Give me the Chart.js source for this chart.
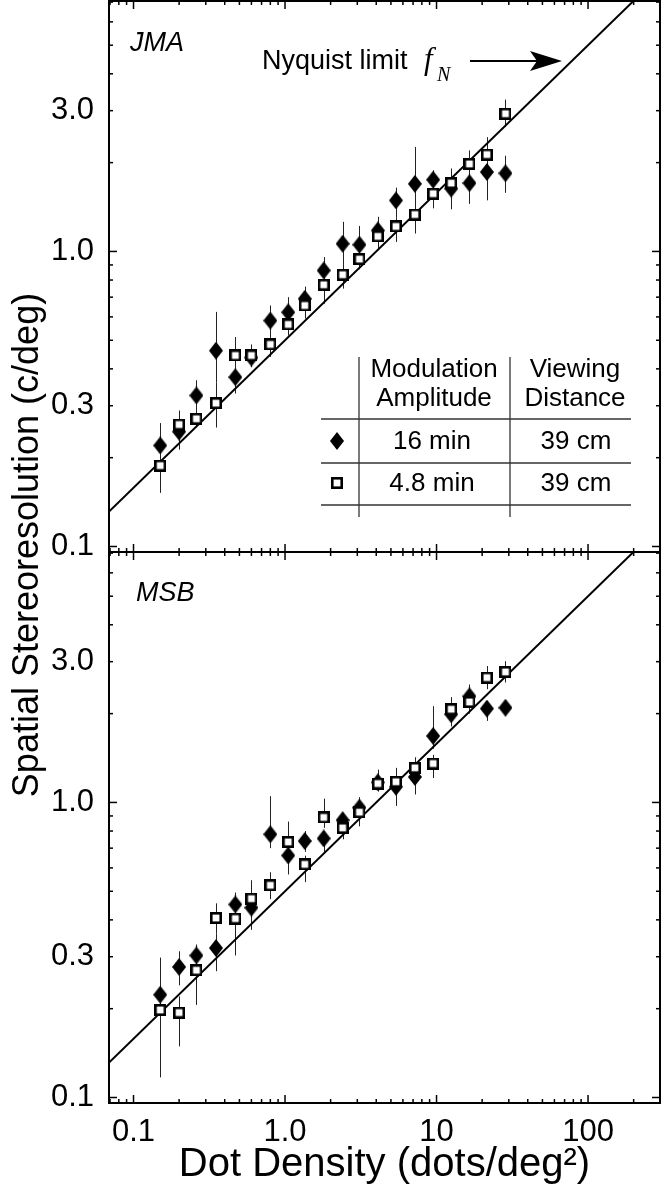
<!DOCTYPE html>
<html>
<head>
<meta charset="utf-8">
<script src="https://cdn.jsdelivr.net/npm/chart.js@4.4.1/dist/chart.umd.min.js"></script>
<style>
  html, body { margin: 0; padding: 0; background: #fff; }
  #wrap { position: relative; width: 663px; height: 1199px; }
  canvas { position: absolute; left: 0; top: 0; }
</style>
</head>
<body>
<div id="wrap">
  <canvas id="topPanel" width="663" height="1199"></canvas>
  <canvas id="bottomPanel" width="663" height="1199"></canvas>
</div>
<script>
// dot density (dots/deg^2), shared by both observers
var density = [0.15, 0.2, 0.26, 0.35, 0.47, 0.6, 0.8, 1.05, 1.35, 1.8, 2.4, 3.1, 4.1, 5.4, 7.2, 9.5, 12.5, 16.5, 21.5, 28.5];

// JMA, 16 min (filled diamonds)
var jmaDiamond   = [0.220, 0.245, 0.325, 0.461, 0.375, 0.437, 0.583, 0.622, 0.691, 0.862, 1.062, 1.054, 1.178, 1.489, 1.695, 1.75, 1.633, 1.705, 1.858, 1.84];
var jmaDiamondLo = [0.185, 0.215, 0.29, 0.36, 0.33, 0.41, 0.50, 0.56, 0.62, 0.78, 0.90, 0.91, 1.06, 1.30, 1.15, 1.55, 1.39, 1.45, 1.49, 1.58];
var jmaDiamondHi = [0.262, 0.28, 0.366, 0.624, 0.42, 0.47, 0.656, 0.70, 0.76, 0.957, 1.26, 1.22, 1.31, 1.645, 2.26, 1.885, 1.91, 1.95, 2.44, 2.11];
// JMA, 4.8 min (open squares)
var jmaSquare    = [0.188, 0.259, 0.271, 0.306, 0.444, 0.444, 0.484, 0.566, 0.656, 0.771, 0.834, 0.942, 1.125, 1.216, 1.334, 1.57, 1.705, 1.98, 2.13, 2.93];
var jmaSquareLo  = [0.152, 0.213, 0.255, 0.253, 0.40, 0.405, 0.439, 0.519, 0.592, 0.665, 0.748, 0.87, 1.02, 1.077, 1.2, 1.40, 1.5, 1.75, 1.9, 2.64];
var jmaSquareHi  = [0.215, 0.289, 0.29, 0.36, 0.513, 0.484, 0.52, 0.60, 0.70, 0.84, 0.9, 1.0, 1.2, 1.3, 1.45, 1.7, 1.85, 2.2, 2.35, 3.27];

// MSB, 16 min
var msbDiamond   = [0.223, 0.277, 0.303, 0.321, 0.451, 0.44, 0.78, 0.661, 0.74, 0.755, 0.871, 0.96, 1.17, 1.13, 1.22, 1.68, 1.99, 2.29, 2.08, 2.094];
var msbDiamondLo = [0.19, 0.24, 0.28, 0.268, 0.42, 0.37, 0.70, 0.57, 0.68, 0.68, 0.80, 0.88, 1.09, 0.973, 1.064, 1.52, 1.81, 2.07, 1.89, 1.97];
var msbDiamondHi = [0.298, 0.313, 0.33, 0.36, 0.495, 0.47, 1.05, 0.86, 0.80, 0.80, 0.92, 1.04, 1.29, 1.31, 1.42, 2.12, 2.27, 2.51, 2.2, 2.2];
// MSB, 4.8 min
var msbSquare    = [0.198, 0.194, 0.27, 0.406, 0.404, 0.472, 0.524, 0.735, 0.617, 0.89, 0.82, 0.927, 1.159, 1.175, 1.31, 1.355, 2.07, 2.19, 2.65, 2.77];
var msbSquareLo  = [0.117, 0.149, 0.206, 0.36, 0.303, 0.44, 0.47, 0.68, 0.537, 0.82, 0.75, 0.83, 1.09, 1.10, 1.2, 1.21, 1.9, 2.0, 2.42, 2.55];
var msbSquareHi  = [0.22, 0.22, 0.3, 0.455, 0.45, 0.545, 0.58, 0.86, 0.66, 1.03, 0.87, 1.04, 1.29, 1.25, 1.42, 1.45, 2.27, 2.4, 2.90, 3.01];

// Nyquist limit line end points
var nyquistX = [0.04, 400];
var nyquistY = [0.1, 10];

var xTicks = [0.1, 1, 10, 100];
var xTickLabels = ['0.1', '1.0', '10', '100'];
var yTicks = [0.1, 0.3, 1, 3];
var yTickLabels = ['0.1', '0.3', '1.0', '3.0'];

var SANS = '"Liberation Sans", Arial, sans-serif';

function makeDiamond() {
  var c = document.createElement('canvas');
  c.width = 14; c.height = 18;
  var g = c.getContext('2d');
  g.fillStyle = '#000';
  g.beginPath();
  g.moveTo(7, 0); g.lineTo(14, 9); g.lineTo(7, 18); g.lineTo(0, 9);
  g.closePath();
  g.fill();
  return c;
}
function makeSquare() {
  var c = document.createElement('canvas');
  c.width = 12; c.height = 12;
  var g = c.getContext('2d');
  g.fillStyle = '#fff';
  g.fillRect(1, 1, 10, 10);
  g.strokeStyle = '#000';
  g.lineWidth = 2.6;
  g.strokeRect(1.3, 1.3, 9.4, 9.4);
  return c;
}
var diamondImg = makeDiamond();
var squareImg = makeSquare();

function points(xs, ys) {
  return xs.map(function (x, i) { return { x: x, y: ys[i] }; });
}

function errPlugin(sets) {
  return {
    id: 'errbars',
    beforeDatasetsDraw: function (chart) {
      var ctx = chart.ctx, xs = chart.scales.x, ys = chart.scales.y;
      ctx.save();
      ctx.strokeStyle = '#222';
      ctx.lineWidth = 1;
      sets.forEach(function (s) {
        for (var i = 0; i < density.length; i++) {
          var px = Math.round(xs.getPixelForValue(density[i])) + 0.5;
          ctx.beginPath();
          ctx.moveTo(px, ys.getPixelForValue(s.lo[i]));
          ctx.lineTo(px, ys.getPixelForValue(s.hi[i]));
          ctx.stroke();
        }
      });
      ctx.restore();
    }
  };
}

var framePlugin = {
  id: 'frame',
  afterDatasetsDraw: function (chart) {
    var a = chart.chartArea, ctx = chart.ctx, xs = chart.scales.x, ys = chart.scales.y;
    ctx.save();
    ctx.strokeStyle = '#000';
    ctx.lineWidth = 1.5;
    function seg(x1, y1, x2, y2) { ctx.beginPath(); ctx.moveTo(x1, y1); ctx.lineTo(x2, y2); ctx.stroke(); }
    for (var d = -2; d <= 3; d++) {
      for (var m = 1; m <= 9; m++) {
        var v = m * Math.pow(10, d);
        var len = m === 1 ? 8 : 4;
        if (v >= xs.min && v <= xs.max) {
          var px = xs.getPixelForValue(v);
          seg(px, a.bottom, px, a.bottom - len);
          seg(px, a.top, px, a.top + len);
        }
        if (v >= ys.min && v <= ys.max) {
          var py = ys.getPixelForValue(v);
          seg(a.left, py, a.left + len, py);
          seg(a.right, py, a.right - len, py);
        }
      }
    }
    ctx.lineWidth = 2;
    ctx.strokeRect(a.left, a.top, a.right - a.left, a.bottom - a.top);
    ctx.restore();
  }
};

var topText = {
  id: 'topText',
  afterDraw: function (chart) {
    var ctx = chart.ctx;
    ctx.save();
    ctx.fillStyle = '#000';
    ctx.strokeStyle = '#000';
    ctx.textBaseline = 'middle';

    ctx.font = 'italic 27px ' + SANS;
    ctx.textAlign = 'left';
    ctx.fillText('JMA', 130, 43);

    // Nyquist label and arrow
    ctx.textBaseline = 'alphabetic';
    ctx.font = '27px ' + SANS;
    ctx.fillText('Nyquist limit', 262, 69);
    ctx.font = 'italic 31px "Liberation Serif", "Times New Roman", serif';
    ctx.fillText('f', 424, 69);
    ctx.font = 'italic 20px "Liberation Serif", "Times New Roman", serif';
    ctx.fillText('N', 437, 81);
    ctx.lineWidth = 2;
    ctx.beginPath(); ctx.moveTo(470, 61); ctx.lineTo(540, 61); ctx.stroke();
    ctx.beginPath();
    ctx.moveTo(562, 61); ctx.lineTo(530, 51); ctx.lineTo(537, 61); ctx.lineTo(530, 71);
    ctx.closePath(); ctx.fill();

    // legend table
    ctx.lineWidth = 1.3;
    ctx.strokeStyle = '#333';
    [[359, 357, 359, 517], [510, 357, 510, 517], [321, 419, 631, 419], [321, 463, 631, 463], [321, 505, 631, 505]].forEach(function (l) {
      ctx.beginPath(); ctx.moveTo(l[0], l[1]); ctx.lineTo(l[2], l[3]); ctx.stroke();
    });
    ctx.font = '26px ' + SANS;
    ctx.textAlign = 'center';
    ctx.textBaseline = 'middle';
    ctx.fillText('Modulation', 434, 370);
    ctx.fillText('Amplitude', 434, 399);
    ctx.fillText('Viewing', 575, 370);
    ctx.fillText('Distance', 575, 399);
    ctx.fillText('16 min', 432, 442);
    ctx.fillText('39 cm', 576, 442);
    ctx.fillText('4.8 min', 432, 484);
    ctx.fillText('39 cm', 576, 484);
    ctx.drawImage(diamondImg, 337 - 7, 441 - 9);
    ctx.drawImage(squareImg, 337 - 6, 483 - 6);

    // shared y-axis title
    ctx.translate(28, 545);
    ctx.rotate(-Math.PI / 2);
    ctx.font = '36px ' + SANS;
    ctx.fillText('Spatial Stereoresolution (c/deg)', 0, 0);
    ctx.restore();
  }
};

var bottomText = {
  id: 'bottomText',
  afterDraw: function (chart) {
    var ctx = chart.ctx;
    ctx.save();
    ctx.fillStyle = '#000';
    ctx.textBaseline = 'middle';
    ctx.font = 'italic 27px ' + SANS;
    ctx.fillText('MSB', 136, 593);
    ctx.restore();
  }
};

function buildPanel(canvasId, padTop, padBottom, sq, sqLo, sqHi, dm, dmLo, dmHi, showX, textPlugin) {
  var ctx = document.getElementById(canvasId).getContext('2d');
  return new Chart(ctx, {
    type: 'scatter',
    data: {
      datasets: [
        { label: '4.8 min', data: points(density, sq), pointStyle: squareImg, pointRadius: 6 },
        { label: '16 min', data: points(density, dm), pointStyle: diamondImg, pointRadius: 8 },
        { label: 'Nyquist limit', type: 'line', data: points(nyquistX, nyquistY), showLine: true,
          borderColor: '#000', borderWidth: 2, pointRadius: 0, fill: false }
      ]
    },
    options: {
      responsive: false,
      animation: false,
      devicePixelRatio: 1,
      layout: { autoPadding: false, padding: { left: 0, right: 3, top: padTop, bottom: padBottom } },
      plugins: { legend: { display: false }, tooltip: { enabled: false } },
      scales: {
        x: {
          type: 'logarithmic', min: 0.0689, max: 298.5, display: showX,
          grid: { display: false }, border: { display: false },
          afterBuildTicks: function (s) { s.ticks = xTicks.map(function (v) { return { value: v }; }); },
          ticks: {
            autoSkip: false, maxRotation: 0, padding: 6, color: '#000',
            font: { family: SANS, size: 31, lineHeight: 1 },
            callback: function (v, i) { return xTickLabels[i]; }
          },
          title: {
            display: showX, text: 'Dot Density (dots/deg²)', color: '#000',
            font: { family: SANS, size: 40, lineHeight: 1 }, padding: { top: 0, bottom: 14 }
          },
          afterFit: function (s) {
            if (showX) s.height = 96;
            s.paddingLeft = 0; s.paddingRight = 0;
          }
        },
        y: {
          type: 'logarithmic', min: 0.0958, max: 7.06,
          grid: { display: false }, border: { display: false },
          afterBuildTicks: function (s) { s.ticks = yTicks.map(function (v) { return { value: v }; }); },
          ticks: {
            padding: 7, color: '#000',
            font: { family: SANS, size: 31, lineHeight: 1 },
            callback: function (v, i) { return yTickLabels[i]; }
          },
          afterFit: function (s) {
            s.width = 109;
            s.paddingTop = 0; s.paddingBottom = 0;
          }
        }
      }
    },
    plugins: [errPlugin([{ lo: sqLo, hi: sqHi }, { lo: dmLo, hi: dmHi }]), framePlugin, textPlugin]
  });
}

buildPanel('topPanel', 1, 647, jmaSquare, jmaSquareLo, jmaSquareHi, jmaDiamond, jmaDiamondLo, jmaDiamondHi, false, topText);
buildPanel('bottomPanel', 552, 0, msbSquare, msbSquareLo, msbSquareHi, msbDiamond, msbDiamondLo, msbDiamondHi, true, bottomText);
</script>
</body>
</html>
